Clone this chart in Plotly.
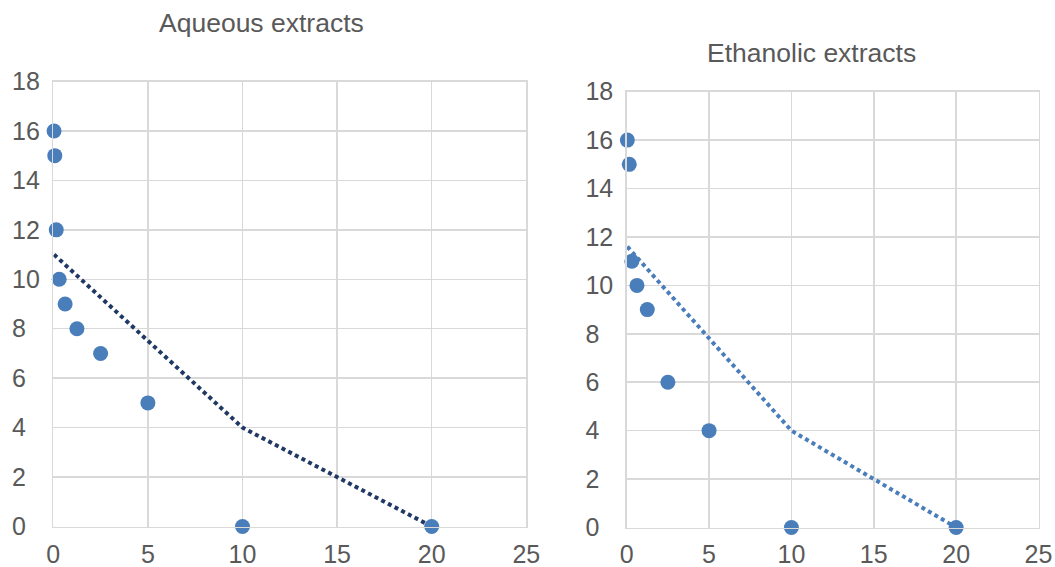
import plotly.graph_objects as go

# Data
aq_x = [0.039, 0.078, 0.156, 0.3125, 0.625, 1.25, 2.5, 5, 10, 20]
aq_y = [16, 15, 12, 10, 9, 8, 7, 5, 0, 0]
aq_trend_x = [0.039, 10, 20]
aq_trend_y = [11, 4, 0]

et_x = [0.039, 0.156, 0.3125, 0.625, 1.25, 2.5, 5, 10, 20]
et_y = [16, 15, 11, 10, 9, 6, 4, 0, 0]
et_trend_x = [0.039, 10, 20]
et_trend_y = [11.6, 4, 0]

titles = ["Aqueous extracts", "Ethanolic extracts"]
x_ticks = [0, 5, 10, 15, 20, 25]
y_ticks = [0, 2, 4, 6, 8, 10, 12, 14, 16, 18]
# left-aligned look of the y labels: pad one-digit labels with a figure space
y_ticktext = [str(v) + "\u2007" * (2 - len(str(v))) for v in y_ticks]

marker_color = "#4A7EBB"
grid = "#D9D9D9"
text_col = "#595959"
FONT = "Liberation Sans, Arial, sans-serif"

fig = go.Figure()
fig.add_trace(go.Scatter(x=aq_trend_x, y=aq_trend_y, mode="lines",
                         line=dict(color="#203864", width=4, dash="4px,3.5px"),
                         xaxis="x", yaxis="y", cliponaxis=False, showlegend=False))
fig.add_trace(go.Scatter(x=aq_x, y=aq_y, mode="markers",
                         marker=dict(color=marker_color, size=15),
                         xaxis="x", yaxis="y", cliponaxis=False, showlegend=False))
fig.add_trace(go.Scatter(x=et_trend_x, y=et_trend_y, mode="lines",
                         line=dict(color="#4A7EBB", width=4, dash="4px,3.5px"),
                         xaxis="x2", yaxis="y2", cliponaxis=False, showlegend=False))
fig.add_trace(go.Scatter(x=et_x, y=et_y, mode="markers",
                         marker=dict(color=marker_color, size=15),
                         xaxis="x2", yaxis="y2", cliponaxis=False, showlegend=False))

W, H = 1055, 567
def px_x(p): return p / W
def px_y(p): return 1 - p / H

axis_common = dict(showgrid=True, gridcolor=grid, gridwidth=1.5, automargin=False,
                   showline=True, linecolor=grid, linewidth=1.5, mirror=True,
                   zeroline=False, ticks="", ticklabeloverflow="allow",
                   tickfont=dict(family=FONT, size=25, color=text_col))

fig.update_layout(
    width=W, height=H,
    margin=dict(l=0, r=0, t=0, b=0),
    paper_bgcolor="white", plot_bgcolor="white",
    hovermode=False,
    xaxis=dict(domain=[px_x(53.3), px_x(526.3)], range=[0, 25], tickvals=x_ticks,
               anchor="y", ticklabelstandoff=5, **axis_common),
    yaxis=dict(domain=[px_y(526.5), px_y(81.5)], range=[0, 18], tickvals=y_ticks,
               ticktext=y_ticktext, anchor="x", ticklabelstandoff=7, **axis_common),
    xaxis2=dict(domain=[px_x(626.7), px_x(1038.5)], range=[0, 25], tickvals=x_ticks,
                anchor="y2", ticklabelstandoff=4, **axis_common),
    yaxis2=dict(domain=[px_y(527.5), px_y(91.7)], range=[0, 18], tickvals=y_ticks,
                ticktext=y_ticktext, anchor="x2", ticklabelstandoff=7, **axis_common),
    annotations=[
        dict(text=titles[0], x=px_x(261), y=px_y(23), xref="paper", yref="paper",
             showarrow=False, xanchor="center", yanchor="middle",
             font=dict(family=FONT, size=26.5, color=text_col)),
        dict(text=titles[1], x=px_x(811), y=px_y(53), xref="paper", yref="paper",
             showarrow=False, xanchor="center", yanchor="middle",
             font=dict(family=FONT, size=26.5, color=text_col)),
    ],
)

fig.write_html("out.html", config={"displayModeBar": False, "staticPlot": True},
               post_script="document.body.style.margin='0';document.body.style.overflow='hidden';")
